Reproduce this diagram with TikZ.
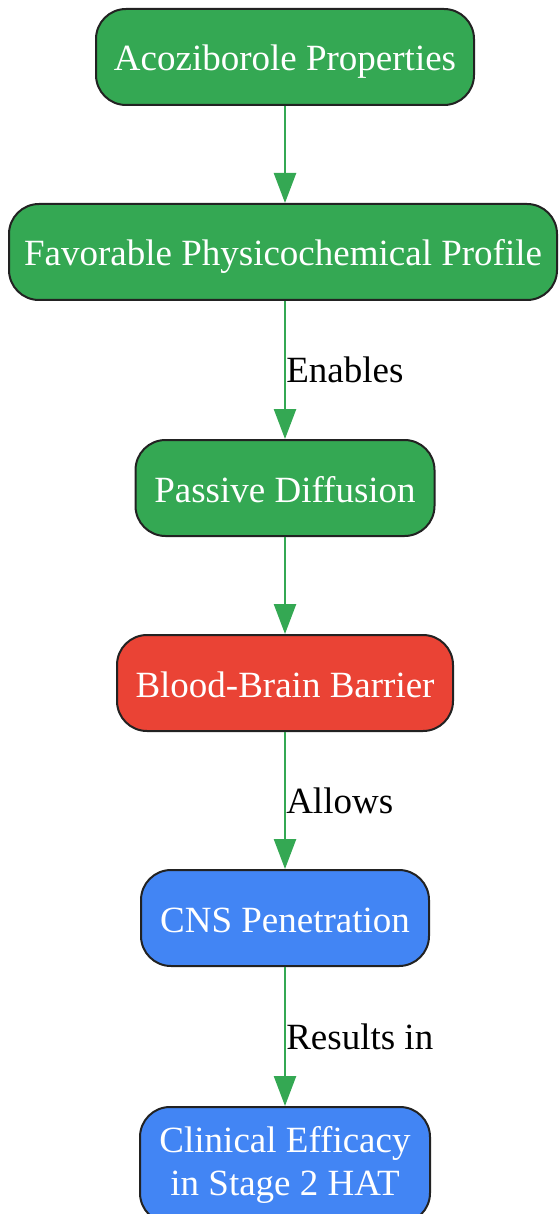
\documentclass[tikz,border=0pt]{standalone}
\usepackage{fontspec}
\setmainfont{Liberation Serif}
\usetikzlibrary{arrows.meta}
\definecolor{boxgreen}{HTML}{34A853}
\definecolor{boxred}{HTML}{EA4335}
\definecolor{boxblue}{HTML}{4285F4}
\definecolor{boxedge}{HTML}{222222}
\tikzset{
  box/.style={draw=boxedge,line width=2pt,rounded corners=30pt,text=white,
    minimum height=96pt,inner sep=0pt,align=center,text height=36pt,text depth=8pt,
    font=\fontsize{37}{43}\selectfont},
  link/.style={-{Triangle[length=30pt,width=22pt]},line width=2.5pt,boxgreen},
  tag/.style={anchor=west,inner sep=0pt,text=black,font=\fontsize{37}{43}\selectfont}
}
\begin{document}
\begin{tikzpicture}[x=1pt,y=1pt]
    \useasboundingbox (0,0) rectangle (558,-1214);

    \node[box,fill=boxgreen,minimum width=378pt] (props) at (285,-57) {Acoziborole Properties};
    \node[box,fill=boxgreen,minimum width=548pt] (profile) at (283,-252) {Favorable Physicochemical Profile};
    \node[box,fill=boxgreen,minimum width=299pt] (diffusion) at (285,-488) {Passive Diffusion};
    \node[box,fill=boxred,minimum width=336pt] (bbb) at (285,-683) {Blood-Brain Barrier};
    \node[box,fill=boxblue,minimum width=288pt] (cns) at (285,-918) {CNS Penetration};
    \node[box,fill=boxblue,minimum width=290pt,minimum height=116pt,text height=,text depth=] (efficacy) at (285,-1165) {Clinical Efficacy\\in Stage 2 HAT};

    \draw[link] (props.south) -- (props.south |- profile.north);
    \draw[link] (profile.south -| props.south) -- (diffusion.north) node[tag,midway] {Enables};
    \draw[link] (diffusion) -- (bbb);
    \draw[link] (bbb) -- (cns) node[tag,midway] {Allows};
    \draw[link] (cns) -- (efficacy) node[tag,midway] {Results in};
\end{tikzpicture}
\end{document}
